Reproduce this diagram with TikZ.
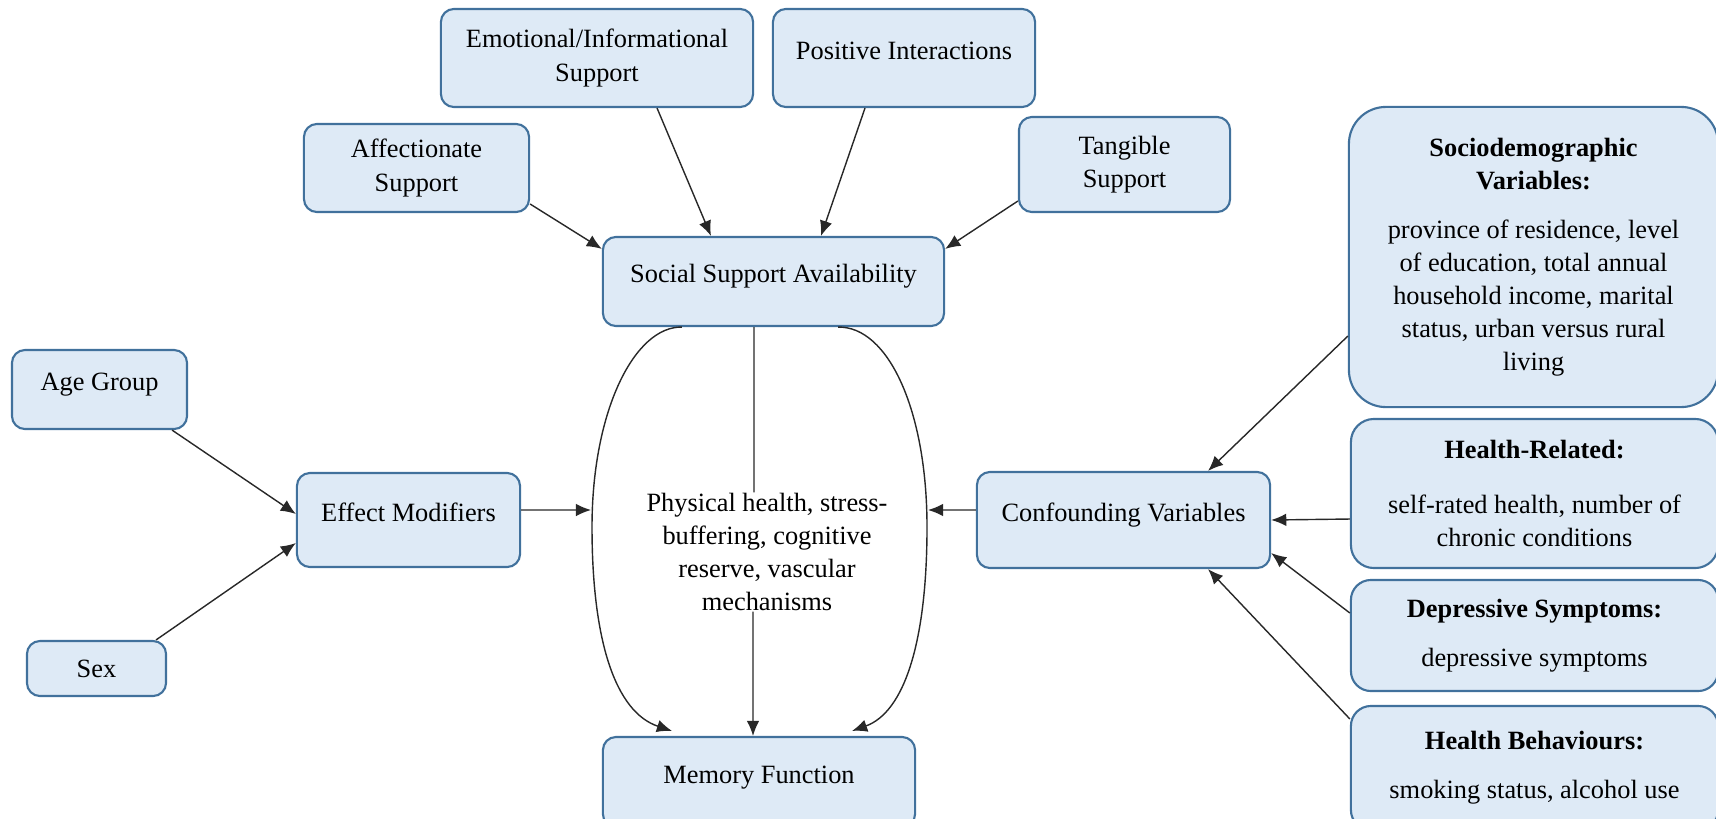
\documentclass[tikz,border=0pt]{standalone}
\usepackage{fontspec}
\setmainfont{Liberation Serif}
\usetikzlibrary{arrows.meta}

\definecolor{caixa}{RGB}{222,234,246}
\definecolor{borda}{RGB}{65,113,156}
\definecolor{seta}{RGB}{40,40,40}

\begin{document}
\begin{tikzpicture}[x=0.01cm, y=-0.01cm, >={Latex[length=4.3pt,width=3.6pt]},
    caixa/.style={draw=borda, fill=caixa, line width=0.6pt, rounded corners=0.13cm,
        align=center, inner sep=0pt, font=\fontsize{7.5}{9.4}\selectfont},
    alto/.style={text height=5.5pt, text depth=4.9pt},
    liga/.style={draw=seta, line width=0.4pt}]

        \useasboundingbox (0,0) rectangle (1716,818);

        % tipos de suporte
        \node[caixa, minimum width=3.12cm, minimum height=0.98cm] (emo) at (597,58) {Emotional/Informational\\Support};
        \node[caixa, alto, minimum width=2.62cm, minimum height=0.98cm] (pos) at (904,58) {Positive Interactions};
        \node[caixa, minimum width=2.25cm, minimum height=0.88cm] (aff) at (416.5,168) {Affectionate\\Support};
        \node[caixa, minimum width=2.11cm, minimum height=0.95cm] (tan) at (1124.5,164.5) {Tangible\\Support};
        \node[caixa, alto, minimum width=3.41cm, minimum height=0.89cm] (ssa) at (773.5,281.5) {Social Support Availability};

        % modificadores
        \node[caixa, alto, minimum width=1.75cm, minimum height=0.79cm] (age) at (99.5,389.5) {Age Group};
        \node[caixa, minimum width=1.39cm, minimum height=0.55cm] (sex) at (96.5,668.5) {Sex};
        \node[caixa, alto, minimum width=2.23cm, minimum height=0.94cm] (eff) at (408.5,520) {Effect Modifiers};

        % mecanismos e desfecho
        \node[align=center, inner sep=0pt, font=\fontsize{7.5}{9.4}\selectfont] (mec) at (767,552)
            {Physical health, stress-\\buffering, cognitive\\reserve, vascular\\mechanisms};
        \node[caixa, alto, minimum width=3.12cm, minimum height=0.9cm] (mem) at (759,782) {Memory Function};

        % confundidores
        \node[caixa, alto, minimum width=2.93cm, minimum height=0.96cm] (conf) at (1123.5,520) {Confounding Variables};
        \node[caixa, rounded corners=0.37cm, minimum width=3.69cm, minimum height=3cm] (socio) at (1533.5,257)
            {\textbf{Sociodemographic}\\\textbf{Variables:}\\[4.5pt]province of residence, level\\of education, total annual\\household income, marital\\status, urban versus rural\\living};
        \node[caixa, rounded corners=0.23cm, minimum width=3.67cm, minimum height=1.49cm] (hrel) at (1534.5,493.5)
            {\textbf{Health-Related:}\\[6pt]self-rated health, number of\\chronic conditions};
        \node[caixa, rounded corners=0.2cm, minimum width=3.67cm, minimum height=1.11cm] (dep) at (1534.5,635.5)
            {\textbf{Depressive Symptoms:}\\[4.5pt]depressive symptoms};
        \node[caixa, rounded corners=0.2cm, minimum width=3.67cm, minimum height=1.24cm] (hb) at (1534.5,768)
            {\textbf{Health Behaviours:}\\[4.5pt]smoking status, alcohol use};

        % pontos nas curvas
        \coordinate (lft) at (591,510);
        \coordinate (rgt) at (928,510);

        % setas para o suporte
        \draw[liga,->] ([yshift=-0.36cm]aff.east) -- ([yshift=-0.13cm]ssa.north west);
        \draw[liga,->] ([xshift=0.6cm]emo.south) -- ([xshift=-0.625cm]ssa.north);
        \draw[liga,->] ([xshift=-0.39cm]pos.south) -- ([xshift=0.475cm]ssa.north);
        \draw[liga,->] ([yshift=-0.365cm]tan.west) -- ([yshift=-0.13cm]ssa.north east);

        % modificadores
        \draw[liga,->] ([xshift=0.725cm]age.south) -- ([yshift=0.06cm]eff.west);
        \draw[liga,->] ([xshift=0.595cm]sex.north) -- ([yshift=-0.23cm]eff.west);
        \draw[liga,->] ([yshift=0.1cm]eff.east) -- (lft);

        % confundidores
        \draw[liga,->] ([yshift=-0.79cm]socio.west) -- ([xshift=0.845cm]conf.north);
        \draw[liga,->] ([yshift=-0.255cm]hrel.west) -- (conf.east);
        \draw[liga,->] ([yshift=0.225cm]dep.west) -- ([yshift=-0.33cm]conf.east);
        \draw[liga,->] ([yshift=0.49cm]hb.west) -- ([xshift=0.845cm]conf.south);
        \draw[liga,->] ([yshift=0.1cm]conf.west) -- (rgt);

        % caminho central
        \draw[liga] ([xshift=-0.195cm]ssa.south) -- ([xshift=-0.13cm]mec.north);
        \draw[liga,->] ([xshift=-0.14cm]mec.south) -- ([xshift=-0.06cm]mem.north);

        % curvas laterais
        \draw[liga,->] ([xshift=-0.915cm]ssa.south) .. controls (635,326) and (592,410) .. (592,527)
            .. controls (592,640) and (615,712) .. ([xshift=-0.87cm,yshift=0.05cm]mem.north);
        \draw[liga,->] ([xshift=0.645cm]ssa.south) .. controls (888,326) and (927,410) .. (927,527)
            .. controls (927,640) and (905,712) .. ([xshift=0.93cm,yshift=0.05cm]mem.north);

    \end{tikzpicture}
\end{document}
